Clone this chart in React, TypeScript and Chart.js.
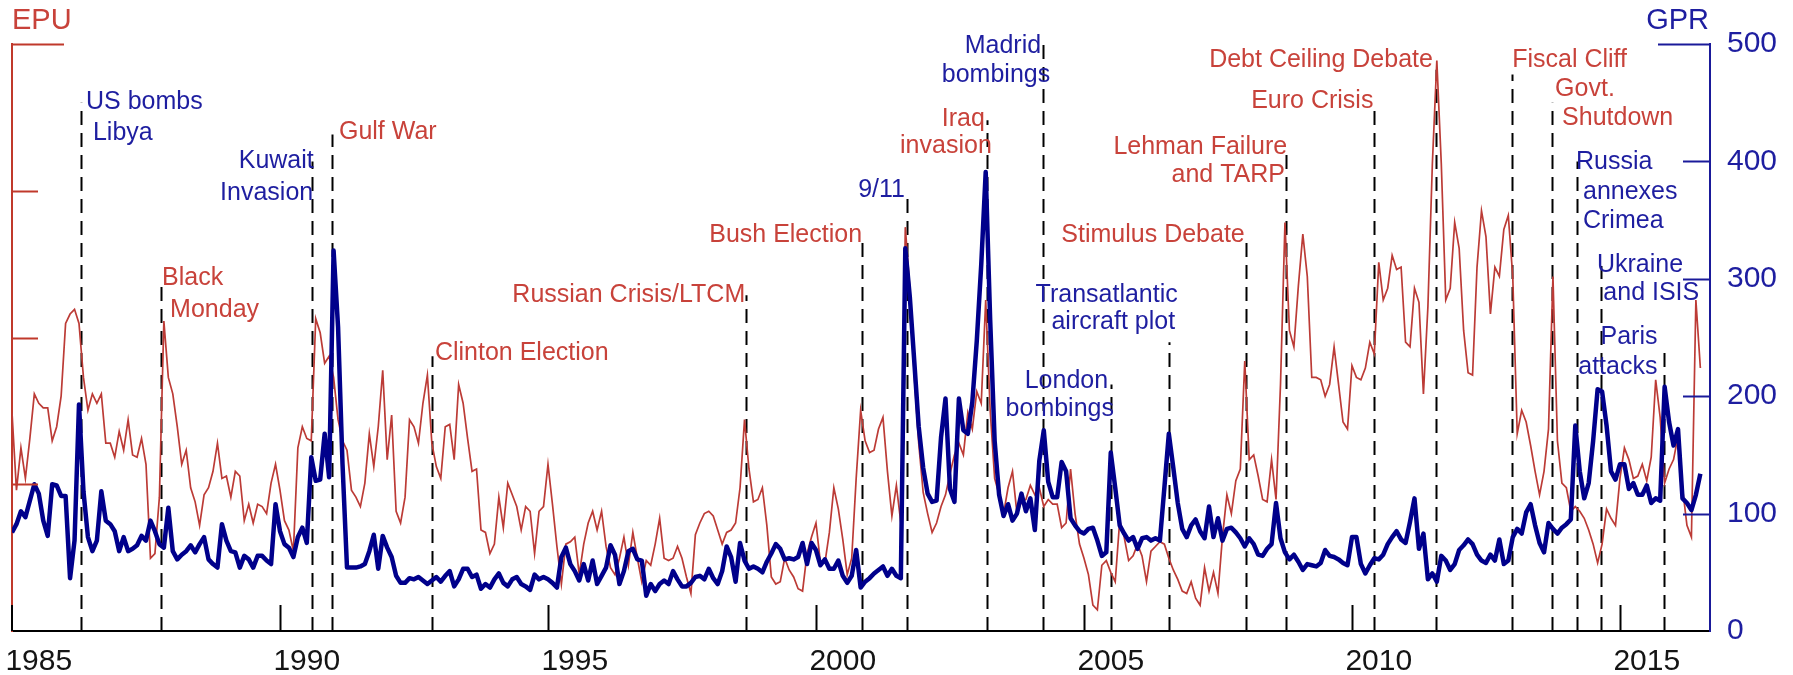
import React, { useEffect, useRef } from 'react';
import { Chart, registerables } from 'chart.js';

Chart.register(...registerables);

// ---------------- data ----------------
const START_YEAR = 1985;
const X_MAX = 2016.68;
const YEAR_TICKS = [1985, 1990, 1995, 2000, 2005, 2010, 2015];
const GPR_TICKS = [100, 200, 300, 400, 500];
const GPR_MAX = 500;
const EPU_MAX = 250;
const EPU_TICKS = [62.5, 125, 187.5, 250];

// Geopolitical Risk index, monthly from Jan 1985
const GPR_VALUES = [
  84, 91, 102, 97, 111, 125, 117, 94, 81, 125, 124, 115,
  115, 45, 77, 193, 119, 80, 68, 77, 119, 94, 91, 85,
  68, 80, 68, 70, 73, 81, 77, 94, 85, 74, 71, 105,
  68, 61, 65, 68, 73, 67, 74, 80, 61, 57, 54, 91,
  77, 68, 67, 54, 64, 61, 54, 64, 64, 60, 57, 108,
  85, 74, 71, 63, 80, 88, 75, 148, 128, 129, 168, 131,
  324, 259, 142, 54, 54, 54, 55, 57, 68, 82, 53, 81,
  71, 63, 47, 41, 41, 45, 44, 46, 43, 40, 43, 46,
  42, 47, 51, 38, 44, 53, 53, 46, 48, 36, 40, 37,
  44, 49, 41, 38, 44, 46, 40, 38, 35, 48, 44, 46,
  44, 41, 37, 63, 71, 57, 51, 43, 57, 43, 60, 40,
  47, 54, 73, 65, 40, 51, 68, 70, 61, 60, 30, 40,
  34, 40, 43, 40, 51, 44, 38, 38, 41, 46, 47, 44,
  53, 45, 40, 51, 72, 63, 42, 75, 60, 53, 55, 53,
  50, 59, 66, 74, 70, 61, 62, 61, 63, 75, 57, 75,
  69, 56, 61, 53, 53, 60, 47, 41, 47, 69, 37, 42,
  45, 49, 52, 55, 47, 53, 47, 45, 326, 285, 230, 174,
  139, 117, 110, 111, 165, 198, 121, 110, 198, 171, 168, 195,
  247, 312, 391, 265, 162, 116, 98, 108, 94, 100, 117, 102,
  113, 86, 145, 171, 127, 114, 114, 144, 136, 96, 90, 85,
  83, 87, 88, 77, 64, 67, 152, 122, 90, 83, 77, 80,
  70, 79, 80, 77, 79, 77, 122, 168, 139, 109, 87, 80,
  90, 95, 85, 79, 106, 80, 96, 77, 87, 88, 84, 79,
  72, 79, 74, 65, 64, 70, 74, 109, 79, 67, 61, 65,
  59, 52, 57, 56, 55, 58, 69, 64, 63, 61, 58, 56,
  80, 80, 57, 49, 56, 62, 61, 65, 74, 80, 85, 78,
  75, 93, 113, 70, 83, 44, 49, 42, 64, 60, 52, 57,
  69, 73, 78, 74, 65, 60, 58, 65, 60, 78, 57, 60,
  80, 87, 83, 101, 108, 90, 75, 67, 92, 87, 83, 88,
  91, 95, 175, 136, 113, 126, 162, 206, 204, 175, 136, 129,
  142, 142, 121, 126, 116, 116, 124, 109, 113, 111, 208, 178,
  158, 172, 113, 109, 103, 116, 134,
];

// Economic Policy Uncertainty index, monthly from Jan 1985
const EPU_VALUES = [
  93, 60, 78, 65, 82, 101, 97, 95, 95, 81, 87, 100,
  131, 135, 137, 131, 108, 94, 101, 97, 101, 80, 80, 74,
  85, 77, 90, 75, 74, 82, 71, 31, 33, 57, 132, 108,
  101, 87, 71, 77, 61, 55, 45, 58, 61, 68, 80, 65,
  66, 57, 68, 66, 47, 54, 46, 54, 53, 50, 63, 71,
  60, 47, 43, 34, 78, 87, 82, 81, 133, 127, 114, 117,
  108, 90, 81, 77, 60, 57, 53, 63, 84, 70, 87, 111,
  73, 92, 51, 46, 57, 90, 87, 80, 97, 109, 80, 70,
  65, 87, 88, 73, 105, 97, 82, 68, 69, 43, 42, 33,
  37, 57, 44, 63, 58, 53, 43, 53, 51, 33, 51, 53,
  71, 54, 36, 20, 37, 38, 40, 24, 37, 46, 51, 43,
  51, 36, 27, 24, 31, 40, 28, 42, 31, 21, 30, 28,
  37, 48, 31, 30, 31, 36, 31, 23, 16, 41, 46, 50,
  51, 49, 43, 37, 42, 43, 46, 61, 90, 69, 55, 56,
  61, 45, 23, 20, 21, 31, 26, 23, 18, 17, 33, 40,
  46, 29, 29, 42, 61, 52, 39, 24, 31, 65, 94, 81,
  76, 77, 86, 91, 68, 49, 62, 46, 172, 146, 109, 80,
  59, 50, 42, 46, 53, 58, 67, 75, 80, 75, 93, 86,
  102, 97, 141, 94, 65, 58, 50, 61, 68, 50, 55, 56,
  62, 58, 61, 53, 56, 54, 54, 44, 46, 69, 50, 37,
  31, 24, 11, 9, 28, 30, 25, 21, 47, 40, 30, 32,
  37, 32, 21, 34, 36, 38, 37, 31, 26, 22, 17, 16,
  21, 14, 11, 27, 17, 25, 16, 40, 58, 50, 64, 69,
  115, 73, 75, 66, 56, 55, 73, 56, 105, 174, 128, 121,
  147, 169, 151, 108, 108, 107, 100, 105, 121, 105, 89, 86,
  113, 108, 107, 112, 123, 118, 157, 141, 146, 160, 154, 155,
  123, 121, 146, 140, 101, 138, 199, 243, 199, 141, 146, 174,
  163, 128, 110, 109, 155, 179, 168, 135, 155, 151, 171, 177,
  151, 84, 94, 89, 79, 68, 58, 68, 86, 151, 81, 63,
  61, 51, 53, 51, 48, 43, 37, 29, 37, 52, 48, 45,
  65, 78, 73, 65, 66, 71, 64, 74, 107, 91, 63, 69,
  73, 83, 61, 45, 40, 141, 112,
];

// event dates (decimal year) and the GPR level where each dashed line stops
const EVENT_DATES = [
  1986.29, 1987.78, 1990.6, 1990.97, 1992.84, 1998.69, 2000.86, 2001.7, 2003.19, 2004.24, 2005.51,
  2006.58, 2008.02, 2008.77, 2010.42, 2011.57, 2012.99, 2013.74, 2014.2, 2014.65, 2015.82,
];
const EVENT_TOPS = [
  450, 295, 400, 423, 234, 286, 336, 374, 435, 503, 210,
  246, 335, 412, 445, 478, 474, 450, 400, 311, 243,
];

// event labels: text, series ('gpr' blue / 'epu' red), anchor (year, GPR level), alignment
const EVENT_LABELS: [string, string, number, number, string][] = [
  ['US bombs', 'gpr', 1986.38, 450.6, 'left'],
  ['Libya', 'gpr', 1986.51, 424, 'left'],
  ['Black', 'epu', 1987.8, 300.7, 'left'],
  ['Monday', 'epu', 1987.95, 273.4, 'left'],
  ['Kuwait', 'gpr', 1990.63, 400.3, 'right'],
  ['Invasion', 'gpr', 1990.62, 373, 'right'],
  ['Gulf War', 'epu', 1991.1, 425, 'left'],
  ['Clinton Election', 'epu', 1992.89, 236.8, 'left'],
  ['Russian Crisis/LTCM', 'epu', 1998.68, 286.2, 'right'],
  ['Bush Election', 'epu', 2000.86, 336.9, 'right'],
  ['9/11', 'gpr', 2001.66, 375.6, 'right'],
  ['Iraq', 'epu', 2003.15, 436, 'right'],
  ['invasion', 'epu', 2003.28, 413, 'right'],
  ['Madrid', 'gpr', 2004.2, 498.3, 'right'],
  ['bombings', 'gpr', 2004.37, 473.2, 'right'],
  ['London', 'gpr', 2005.45, 213, 'right'],
  ['bombings', 'gpr', 2005.56, 188.7, 'right'],
  ['Transatlantic', 'gpr', 2006.75, 286.2, 'right'],
  ['aircraft plot', 'gpr', 2006.7, 263.2, 'right'],
  ['Stimulus Debate', 'epu', 2008.0, 337.6, 'right'],
  ['Lehman Failure', 'epu', 2008.79, 412.3, 'right'],
  ['and TARP', 'epu', 2008.75, 388, 'right'],
  ['Euro Crisis', 'epu', 2010.4, 451.4, 'right'],
  ['Debt Ceiling Debate', 'epu', 2011.51, 486.4, 'right'],
  ['Fiscal Cliff', 'epu', 2012.99, 486.4, 'left'],
  ['Govt.', 'epu', 2013.79, 461.7, 'left'],
  ['Shutdown', 'epu', 2013.92, 436.5, 'left'],
  ['Russia', 'gpr', 2014.18, 399.5, 'left'],
  ['annexes', 'gpr', 2014.31, 373.5, 'left'],
  ['Crimea', 'gpr', 2014.31, 349.2, 'left'],
  ['Ukraine', 'gpr', 2014.57, 311.8, 'left'],
  ['and ISIS', 'gpr', 2014.69, 287.9, 'left'],
  ['Paris', 'gpr', 2015.7, 250.4, 'right'],
  ['attacks', 'gpr', 2015.7, 224.4, 'right'],
];

// ---------------- styles ----------------
const FONT = '"Liberation Sans", Arial, Helvetica, sans-serif';
const BLUE_LINE = '#00008B';
const RED_LINE = '#BC3B36';
const BLUE_TEXT = '#1E1EA0';
const RED_TEXT = '#C8423A';
const RED_AXIS = '#C0392B';
const BLUE_AXIS = '#1A1A9A';

const overlayPlugin = {
  id: 'overlay',
  beforeDatasetsDraw(chart: any) {
    const { ctx, scales } = chart;
    const x = scales.x;
    const y1 = scales.y1;
    ctx.save();
    ctx.strokeStyle = '#000';
    ctx.lineWidth = 2;
    ctx.setLineDash([14, 8]);
    EVENT_DATES.forEach((d, i) => {
      const px = Math.round(x.getPixelForValue(d)) + 0.5;
      ctx.beginPath();
      ctx.moveTo(px, y1.getPixelForValue(0));
      ctx.lineTo(px, y1.getPixelForValue(EVENT_TOPS[i]));
      ctx.stroke();
    });
    ctx.restore();
  },
  afterDraw(chart: any) {
    const { ctx, scales, chartArea } = chart;
    const x = scales.x;
    const y = scales.y;
    const y1 = scales.y1;
    ctx.save();
    ctx.setLineDash([]);
    // inward year ticks
    ctx.strokeStyle = '#000';
    ctx.lineWidth = 2;
    YEAR_TICKS.forEach((yr) => {
      const px = Math.round(x.getPixelForValue(yr)) + (yr === START_YEAR ? 0 : 0.5);
      ctx.beginPath();
      ctx.moveTo(px, chartArea.bottom);
      ctx.lineTo(px, chartArea.bottom - 26);
      ctx.stroke();
    });
    // left (EPU) ticks
    ctx.strokeStyle = RED_AXIS;
    EPU_TICKS.forEach((v) => {
      const py = Math.round(y.getPixelForValue(v)) + 0.5;
      const len = v === EPU_MAX ? 52 : 26;
      ctx.beginPath();
      ctx.moveTo(chartArea.left, py);
      ctx.lineTo(chartArea.left + len, py);
      ctx.stroke();
    });
    // right (GPR) ticks
    ctx.strokeStyle = BLUE_AXIS;
    GPR_TICKS.forEach((v) => {
      const py = Math.round(y1.getPixelForValue(v)) + 0.5;
      const len = v === GPR_MAX ? 52 : 27;
      ctx.beginPath();
      ctx.moveTo(chartArea.right, py);
      ctx.lineTo(chartArea.right - len, py);
      ctx.stroke();
    });
    // axis titles
    ctx.font = `29px ${FONT}`;
    ctx.textBaseline = 'middle';
    ctx.fillStyle = RED_TEXT;
    ctx.textAlign = 'left';
    ctx.fillText('EPU', 12, 21);
    ctx.fillStyle = BLUE_TEXT;
    ctx.textAlign = 'right';
    ctx.fillText('GPR', chartArea.right - 1, 21);
    // event labels
    ctx.font = `25px ${FONT}`;
    EVENT_LABELS.forEach(([text, series, xv, yv, align]) => {
      ctx.fillStyle = series === 'gpr' ? BLUE_TEXT : RED_TEXT;
      ctx.textAlign = align as CanvasTextAlign;
      ctx.fillText(text, x.getPixelForValue(xv), y1.getPixelForValue(yv));
    });
    ctx.restore();
  },
};

export default function App() {
  const canvasRef = useRef<HTMLCanvasElement | null>(null);

  useEffect(() => {
    const canvas = canvasRef.current;
    if (!canvas) return;
    const months = GPR_VALUES.map((_, i) => START_YEAR + i / 12);
    const chart = new Chart(canvas, {
      type: 'line',
      data: {
        datasets: [
          {
            label: 'GPR',
            data: GPR_VALUES.map((v, i) => ({ x: months[i], y: v })),
            yAxisID: 'y1',
            borderColor: BLUE_LINE,
            borderWidth: 4.5,
            pointRadius: 0,
            tension: 0,
            borderJoinStyle: 'round',
            order: 0,
          },
          {
            label: 'EPU',
            data: EPU_VALUES.map((v, i) => ({ x: months[i], y: v })),
            yAxisID: 'y',
            borderColor: RED_LINE,
            borderWidth: 1.7,
            pointRadius: 0,
            tension: 0,
            order: 1,
          },
        ],
      },
      options: {
        responsive: false,
        animation: false,
        layout: { autoPadding: false, padding: { top: 44, left: 0, right: 0, bottom: 0 } },
        plugins: { legend: { display: false }, tooltip: { enabled: false } },
        scales: {
          x: {
            type: 'linear',
            min: START_YEAR,
            max: X_MAX,
            grid: { display: false, drawTicks: false },
            border: { display: true, color: '#000', width: 2 },
            afterBuildTicks: (s: any) => {
              s.ticks = YEAR_TICKS.map((v) => ({ value: v + 0.5 }));
            },
            ticks: {
              autoSkip: false,
              maxRotation: 0,
              padding: 13,
              color: '#141414',
              font: { size: 30, family: FONT },
              callback: (v: any) => String(Math.floor(Number(v))),
            },
            afterFit: (s: any) => {
              s.height = 44;
              s.paddingLeft = 0;
              s.paddingRight = 0;
            },
          },
          y: {
            type: 'linear',
            position: 'left',
            min: 0,
            max: EPU_MAX,
            grid: { display: false, drawTicks: false },
            border: { display: true, color: RED_AXIS, width: 2 },
            ticks: { display: false },
            afterFit: (s: any) => {
              s.width = 12;
              s.paddingTop = 0;
              s.paddingBottom = 0;
            },
          },
          y1: {
            type: 'linear',
            position: 'right',
            min: 0,
            max: GPR_MAX,
            grid: { display: false, drawTicks: false },
            border: { display: true, color: BLUE_AXIS, width: 2 },
            ticks: {
              stepSize: 100,
              padding: 17,
              color: BLUE_TEXT,
              font: { size: 30, family: FONT },
            },
            afterFit: (s: any) => {
              s.width = 83;
              s.paddingTop = 0;
              s.paddingBottom = 0;
            },
          },
        },
      },
      plugins: [overlayPlugin],
    } as any);
    return () => chart.destroy();
  }, []);

  return (
    <div
      style={{
        position: 'absolute',
        left: 0,
        top: 0,
        width: 1793,
        height: 675,
        background: '#fff',
      }}
    >
      <canvas ref={canvasRef} width={1793} height={675} style={{ display: 'block' }} />
    </div>
  );
}
